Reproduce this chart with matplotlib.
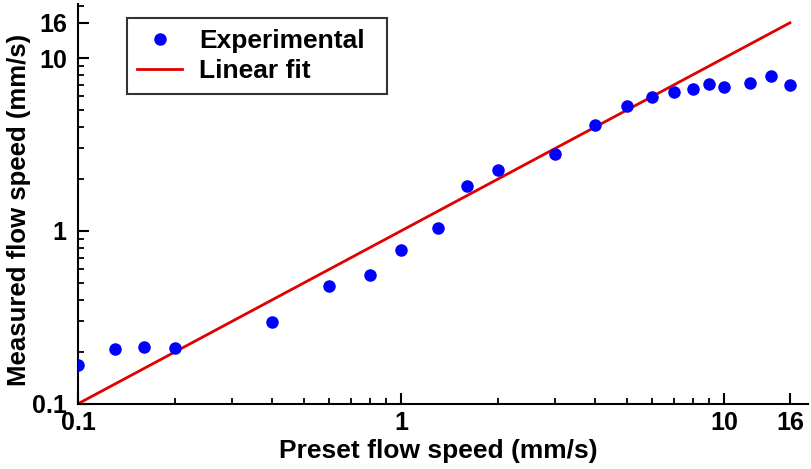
import matplotlib
matplotlib.use("Agg")
import matplotlib.pyplot as plt
from matplotlib.ticker import FixedLocator, LogLocator, NullFormatter, FixedFormatter

preset = [0.1, 0.13, 0.16, 0.2, 0.4, 0.6, 0.8, 1.0, 1.3, 1.6, 2.0, 3.0, 4.0, 5.0,
          6.0, 7.0, 8.0, 9.0, 10.0, 12.0, 14.0, 16.0]
measured = [0.168, 0.208, 0.214, 0.211, 0.298, 0.48, 0.557, 0.776, 1.04, 1.82, 2.25,
            2.79, 4.1, 5.28, 5.96, 6.35, 6.62, 7.08, 6.8, 7.16, 7.87, 6.98]
fit_x = [0.1, 16.0]
fit_y = [0.1, 16.0]
tick_vals = [0.1, 1, 10, 16]
tick_labels = ["0.1", "1", "10", "16"]

plt.rcParams['font.family'] = ['Liberation Sans', 'DejaVu Sans']
plt.rcParams['font.weight'] = 'bold'

fig = plt.figure(figsize=(8.12, 4.69), dpi=100)
ax = fig.add_axes([0.096, 0.139, 0.899, 0.852])

ax.plot(fit_x, fit_y, color='#e00000', lw=2.0, label='Linear fit', zorder=2)
ax.plot(preset, measured, 'o', color='#0000ff', ms=8, label='Experimental', zorder=3)

ax.set_xscale('log')
ax.set_yscale('log')
ax.set_xlim(0.1, 18.2)
ax.set_ylim(0.1, 20.5)

for axis in (ax.xaxis, ax.yaxis):
    axis.set_major_locator(FixedLocator(tick_vals))
    axis.set_major_formatter(FixedFormatter(tick_labels))
    axis.set_minor_locator(LogLocator(base=10, subs=range(2, 10)))
    axis.set_minor_formatter(NullFormatter())

ax.tick_params(which='major', direction='in', length=8, width=1.5, labelsize=18, pad=5)
ax.tick_params(axis='y', which='major', pad=8)
ax.tick_params(which='minor', direction='in', length=4.5, width=1.3)
for lab in ax.get_xticklabels() + ax.get_yticklabels():
    lab.set_fontweight('bold')

for s in ['top', 'right']:
    ax.spines[s].set_visible(False)
for s in ['left', 'bottom']:
    ax.spines[s].set_linewidth(1.5)

ax.set_xlabel('Preset flow speed (mm/s)', fontsize=19, fontweight='bold', labelpad=3)
ax.set_ylabel('Measured flow speed (mm/s)', fontsize=18.5, fontweight='bold', labelpad=1)
ax.xaxis.label.set_x(0.494)
ax.yaxis.label.set_y(0.485)

handles, labels = ax.get_legend_handles_labels()
leg = ax.legend(handles[::-1], labels[::-1], loc='upper left',
                bbox_to_anchor=(0.067, 0.0, 0.356, 0.965), mode='expand', borderaxespad=0,
                fontsize=19, frameon=True, fancybox=False, edgecolor='black',
                borderpad=0.4, handlelength=1.7, handletextpad=0.63, labelspacing=0.25)
leg.get_frame().set_linewidth(1.5)
for t in leg.get_texts():
    t.set_fontweight('bold')

fig.savefig('out.png', dpi=100)
